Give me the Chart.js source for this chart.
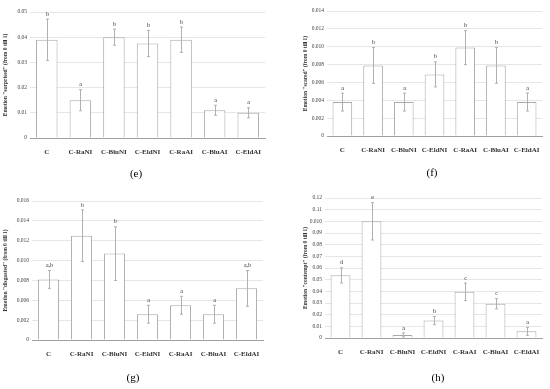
<!DOCTYPE html>
<html>
<head>
<meta charset="utf-8">
<script src="https://cdn.jsdelivr.net/npm/chart.js@4"></script>
<style>
body { margin: 0; background: #fff; width: 550px; height: 389px; position: relative; overflow: hidden; }
.box { position: absolute; }
.cap { position: absolute; width: 40px; text-align: center; font-family: "Liberation Serif", serif; font-size: 11px; color: #000; filter: grayscale(100%); }
</style>
</head>
<body>
<div class="box" style="left:0px;top:0px;width:275px;height:154px"><canvas id="cE"></canvas></div>
<div class="box" style="left:300px;top:0px;width:250px;height:152px"><canvas id="cF"></canvas></div>
<div class="box" style="left:0px;top:192px;width:275px;height:164px"><canvas id="cG"></canvas></div>
<div class="box" style="left:300px;top:190px;width:250px;height:164px"><canvas id="cH"></canvas></div>
<div class="cap" style="left:116px;top:167px">(e)</div>
<div class="cap" style="left:412px;top:166px">(f)</div>
<div class="cap" style="left:113px;top:371px">(g)</div>
<div class="cap" style="left:418px;top:371px">(h)</div>
<script>
var groups = ['C', 'C-RaNI', 'C-BluNI', 'C-EldNI', 'C-RaAI', 'C-BluAI', 'C-EldAI'];

// (e) surprised
var surprisedMean = [0.039, 0.015, 0.040, 0.0375, 0.039, 0.011, 0.010];
var surprisedErr = [0.0082, 0.0042, 0.0032, 0.0052, 0.005, 0.002, 0.002];
var surprisedLetters = ['b', 'a', 'b', 'b', 'b', 'a', 'a'];

// (f) scared
var scaredMean = [0.0038, 0.0079, 0.0038, 0.0069, 0.0099, 0.0079, 0.0038];
var scaredErr = [0.001, 0.002, 0.001, 0.0014, 0.0019, 0.002, 0.001];
var scaredLetters = ['a', 'b', 'a', 'b', 'b', 'b', 'a'];

// (g) disgusted - values on the drawn (evenly spaced) axis
var disgustedMean = [0.0061, 0.0105, 0.0087, 0.0026, 0.0035, 0.0026, 0.0052];
var disgustedErr = [0.0009, 0.0026, 0.0027, 0.0009, 0.0009, 0.0009, 0.0018];
var disgustedLetters = ['a,b', 'b', 'b', 'a', 'a', 'a', 'a,b'];
var disgustedTicks = ['0', '0.002', '0.006', '0.008', '0.010', '0.012', '0.014', '0.016'];

// (h) contempt
var contemptMean = [0.0537, 0.100, 0.0026, 0.0149, 0.0396, 0.0294, 0.0057];
var contemptErr = [0.0065, 0.016, 0.0017, 0.0035, 0.0075, 0.0044, 0.0034];
var contemptLetters = ['d', 'e', 'a', 'b', 'c', 'c', 'a'];
var contemptTicks = ['0', '0.01', '0.02', '0.03', '0.04', '0.05', '0.06', '0.07', '0.08', '0.09', '0.010', '0.11', '0.12'];

var serif = 'Liberation Serif';

var errorBars = {
    id: 'errorBars',
    afterDatasetsDraw: function(chart) {
        var o = chart.options.plugins.errorBars;
        var meta = chart.getDatasetMeta(0);
        var y = chart.scales.y;
        var ctx = chart.ctx;
        ctx.save();
        ctx.strokeStyle = '#b0b0b0';
        ctx.lineWidth = 1;
        for (var i = 0; i < meta.data.length; i++) {
            var x = Math.round(meta.data[i].x) + 0.5;
            var v = o.mean[i];
            var yt = y.getPixelForValue(v + o.err[i]);
            var yb = y.getPixelForValue(v - o.err[i]);
            ctx.beginPath();
            ctx.moveTo(x, yt);
            ctx.lineTo(x, yb);
            ctx.moveTo(x - 1.5, yt);
            ctx.lineTo(x + 1.5, yt);
            ctx.moveTo(x - 1.5, yb);
            ctx.lineTo(x + 1.5, yb);
            ctx.stroke();
            ctx.fillStyle = '#333';
            ctx.font = '6px "' + serif + '"';
            ctx.textAlign = 'center';
            ctx.textBaseline = 'bottom';
            ctx.fillText(o.letters[i], x, yt - 2);
        }
        ctx.restore();
    }
};

function makeChart(id, mean, err, letters, title, max, step, tickLabel, yWidth, pad) {
    var config = {
        type: 'bar',
        data: {
            labels: groups,
            datasets: [{
                data: mean,
                backgroundColor: '#ffffff',
                borderColor: '#a8a8a8',
                borderWidth: 1,
                barPercentage: 0.64,
                categoryPercentage: 1
            }]
        },
        options: {
            responsive: true,
            maintainAspectRatio: false,
            animation: false,
            layout: { padding: pad },
            plugins: {
                legend: { display: false },
                tooltip: { enabled: false },
                errorBars: { mean: mean, err: err, letters: letters }
            },
            scales: {
                x: {
                    grid: { display: false },
                    border: { color: '#a0a0a0' },
                    ticks: { color: '#333', font: { family: serif, size: 7, weight: 'bold' }, padding: 2, maxRotation: 0 },
                    afterFit: function(s) { s.height = 16; }
                },
                y: {
                    min: 0,
                    max: max,
                    grid: { color: '#e6e6e6', drawTicks: false },
                    border: { display: false },
                    ticks: { stepSize: step, color: '#444', font: { family: serif, size: 5.5 }, padding: 3, callback: tickLabel },
                    title: { display: true, text: title, color: '#333', font: { family: serif, size: 5.5, weight: 'bold' }, padding: 0 },
                    afterFit: function(s) { s.width = yWidth; }
                }
            }
        },
        plugins: [errorBars]
    };
    return new Chart(document.getElementById(id), config);
}

makeChart('cE', surprisedMean, surprisedErr, surprisedLetters,
    'Emotion "surprised" (from 0 till 1)', 0.05, 0.01,
    function(v) { return v === 0 ? '0' : v.toFixed(2); },
    28, { top: 12, right: 10, left: 2, bottom: 0 });

makeChart('cF', scaredMean, scaredErr, scaredLetters,
    'Emotion "scared" (from 0 till 1)', 0.014, 0.002,
    function(v) { return v === 0 ? '0' : v.toFixed(3); },
    25, { top: 11, right: 8, left: 2, bottom: 0 });

makeChart('cG', disgustedMean, disgustedErr, disgustedLetters,
    'Emotion "disgusted" (from 0 till 1)', 0.014, 0.002,
    function(v, i) { return disgustedTicks[i]; },
    30, { top: 9, right: 12, left: 2, bottom: 0 });

makeChart('cH', contemptMean, contemptErr, contemptLetters,
    'Emotion "contempt" (from 0 till 1)', 0.12, 0.01,
    function(v, i) { return contemptTicks[i]; },
    23, { top: 8, right: 8, left: 2, bottom: 0 });
</script>
</body>
</html>
